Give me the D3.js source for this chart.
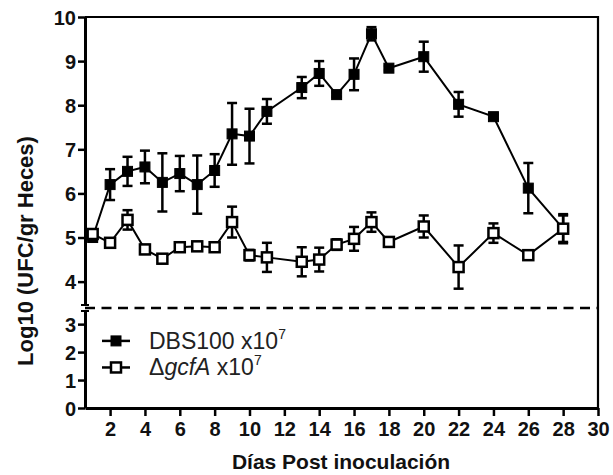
<!DOCTYPE html>
<html lang="es">

<head>
  <meta charset="UTF-8">
  <title>Log10 UFC/gr Heces</title>
  <script src="https://d3js.org/d3.v7.min.js"></script>
  <style>
    body { margin: 0; background: #fff; }
    text { font-family: "Liberation Sans", Arial, sans-serif; }
  </style>
</head>

<body>
  <div id="chart"></div>

  <script>
    // datos
    const days = [1, 2, 3, 4, 5, 6, 7, 8, 9, 10, 11, 13, 14, 15, 16, 17, 18, 20, 22, 24, 26, 28];
    const dbsMean = [5.0, 6.2, 6.5, 6.6, 6.25, 6.45, 6.2, 6.52, 7.35, 7.3, 7.86, 8.4, 8.72, 8.24, 8.7, 9.62, 8.84, 9.1, 8.02, 7.74, 6.12, 5.2];
    const dbsErr = [0.08, 0.35, 0.33, 0.37, 0.66, 0.4, 0.66, 0.37, 0.7, 0.62, 0.28, 0.24, 0.28, 0.05, 0.36, 0.15, 0.05, 0.34, 0.28, 0.05, 0.57, 0.3];
    const gcfMean = [5.08, 4.88, 5.4, 4.73, 4.52, 4.78, 4.8, 4.78, 5.35, 4.6, 4.55, 4.45, 4.5, 4.84, 4.97, 5.35, 4.9, 5.25, 4.33, 5.1, 4.6, 5.2];
    const gcfErr = [0.1, 0.1, 0.22, 0.1, 0.1, 0.1, 0.1, 0.1, 0.35, 0.12, 0.33, 0.33, 0.27, 0.12, 0.27, 0.22, 0.08, 0.25, 0.49, 0.22, 0.08, 0.33];
    const xTicks = [2, 4, 6, 8, 10, 12, 14, 16, 18, 20, 22, 24, 26, 28, 30];
    const yTicksUpper = [4, 5, 6, 7, 8, 9, 10];
    const yTicksLower = [0, 1, 2, 3];
    const cutoff = 3.47; // línea discontinua

    const W = 613, H = 475;
    const margin = { top: 17, right: 15, bottom: 67, left: 85 },
      width = W - margin.left - margin.right,
      height = H - margin.top - margin.bottom;

    const svg = d3.select("#chart")
      .append("svg")
      .attr("width", W)
      .attr("height", H);

    const g = svg.append("g")
      .attr("transform", `translate(${margin.left},${margin.top})`);

    // escalas: eje Y partido en dos tramos
    const x = d3.scaleLinear().domain([0.56, 30]).range([0, width]);
    const yUp = d3.scaleLinear().domain([cutoff, 10]).range([288, 0]);
    const yLow = d3.scaleLinear().domain([0, cutoff]).range([height, 294]);

    // marco
    g.append("path")
      .attr("d", `M0,0H${width}V${height}`)
      .attr("fill", "none")
      .attr("stroke", "#000")
      .attr("stroke-width", 2.2);

    // eje X
    const xAxis = g.append("g")
      .attr("transform", `translate(0,${height})`)
      .call(d3.axisBottom(x).tickValues(xTicks).tickFormat(d3.format("d"))
        .tickSize(8).tickSizeOuter(0).tickPadding(6));

    // ejes Y (tramo superior e inferior)
    const yAxisUp = g.append("g")
      .call(d3.axisLeft(yUp).tickValues(yTicksUpper).tickFormat(d3.format("d"))
        .tickSize(7).tickSizeOuter(0).tickPadding(2));
    const yAxisLow = g.append("g")
      .call(d3.axisLeft(yLow).tickValues(yTicksLower).tickFormat(d3.format("d"))
        .tickSize(7).tickSizeOuter(0).tickPadding(2));

    [xAxis, yAxisUp, yAxisLow].forEach(a => {
      a.select(".domain").attr("stroke-width", 3);
      a.selectAll(".tick line").attr("stroke-width", 2.5);
      a.selectAll(".tick text")
        .attr("font-size", "20px")
        .attr("font-weight", "bold")
        .attr("fill", "#111");
    });
    yAxisUp.selectAll(".tick text").attr("dy", "0.36em");
    yAxisLow.selectAll(".tick text").attr("dy", "0.36em");

    // marcas de corte en el eje
    [yUp(cutoff), yLow(cutoff)].forEach(yy => {
      g.append("line")
        .attr("x1", -4).attr("x2", 4)
        .attr("y1", yy).attr("y2", yy)
        .attr("stroke", "#000")
        .attr("stroke-width", 2);
    });

    // línea discontinua
    g.append("line")
      .attr("x1", 0).attr("x2", width)
      .attr("y1", (yUp(cutoff) + yLow(cutoff)) / 2)
      .attr("y2", (yUp(cutoff) + yLow(cutoff)) / 2)
      .attr("stroke", "#000")
      .attr("stroke-width", 2.5)
      .attr("stroke-dasharray", "10,6.5");

    // series
    const series = [
      { name: "DBS100", mean: dbsMean, err: dbsErr, fill: "#000" },
      { name: "gcfA", mean: gcfMean, err: gcfErr, fill: "#fff" }
    ];

    const line = d3.line()
      .x(d => x(d.day))
      .y(d => yUp(d.v));

    const ms = 10; // tamaño del marcador
    const capW = 10;

    series.forEach(s => {
      const pts = days.map((d, i) => ({ day: d, v: s.mean[i], e: s.err[i] }));

      g.append("path")
        .datum(pts)
        .attr("fill", "none")
        .attr("stroke", "#000")
        .attr("stroke-width", 2)
        .attr("d", line);

      const eb = g.append("g").selectAll("g")
        .data(pts)
        .enter()
        .append("g")
        .attr("stroke", "#000")
        .attr("stroke-width", 2.5);

      eb.append("line")
        .attr("x1", d => x(d.day)).attr("x2", d => x(d.day))
        .attr("y1", d => yUp(d.v - d.e)).attr("y2", d => yUp(d.v + d.e));
      eb.append("line")
        .attr("x1", d => x(d.day) - capW / 2).attr("x2", d => x(d.day) + capW / 2)
        .attr("y1", d => yUp(d.v + d.e)).attr("y2", d => yUp(d.v + d.e));
      eb.append("line")
        .attr("x1", d => x(d.day) - capW / 2).attr("x2", d => x(d.day) + capW / 2)
        .attr("y1", d => yUp(d.v - d.e)).attr("y2", d => yUp(d.v - d.e));

      g.append("g").selectAll("rect")
        .data(pts)
        .enter()
        .append("rect")
        .attr("x", d => x(d.day) - ms / 2)
        .attr("y", d => yUp(d.v) - ms / 2)
        .attr("width", ms)
        .attr("height", ms)
        .attr("fill", s.fill)
        .attr("stroke", "#000")
        .attr("stroke-width", s.fill === "#000" ? 1 : 2.5);
    });

    // leyenda
    const legend = g.append("g").attr("transform", "translate(17,0)");
    const legY = [yLow(2.4), yLow(1.45)];
    series.forEach((s, i) => {
      legend.append("line")
        .attr("x1", 0).attr("x2", 28)
        .attr("y1", legY[i]).attr("y2", legY[i])
        .attr("stroke", "#000")
        .attr("stroke-width", 2.5);
      legend.append("rect")
        .attr("x", 14 - ms / 2).attr("y", legY[i] - ms / 2)
        .attr("width", ms).attr("height", ms)
        .attr("fill", s.fill)
        .attr("stroke", "#000")
        .attr("stroke-width", s.fill === "#000" ? 1 : 2.5);
    });

    const t1 = legend.append("text")
      .attr("x", 47).attr("y", legY[0] + 8)
      .attr("font-size", "23px")
      .attr("fill", "#222");
    t1.append("tspan").text("DBS100 x10");
    t1.append("tspan").attr("font-size", "14px").attr("dy", -10).text("7");

    const t2 = legend.append("text")
      .attr("x", 47).attr("y", legY[1] + 8)
      .attr("font-size", "23px")
      .attr("fill", "#222");
    t2.append("tspan").text("Δ");
    t2.append("tspan").attr("font-style", "italic").text("gcfA");
    t2.append("tspan").text(" x10");
    t2.append("tspan").attr("font-size", "14px").attr("dy", -10).text("7");

    // títulos de los ejes
    svg.append("text")
      .attr("text-anchor", "middle")
      .attr("x", 341)
      .attr("y", 469)
      .attr("font-size", "21px")
      .attr("font-weight", "bold")
      .attr("fill", "#111")
      .text("Días Post inoculación");

    svg.append("text")
      .attr("text-anchor", "middle")
      .attr("transform", "translate(33,251) rotate(-90)")
      .attr("font-size", "22px")
      .attr("font-weight", "bold")
      .attr("fill", "#111")
      .text("Log10 (UFC/gr Heces)");
  </script>
</body>

</html>
